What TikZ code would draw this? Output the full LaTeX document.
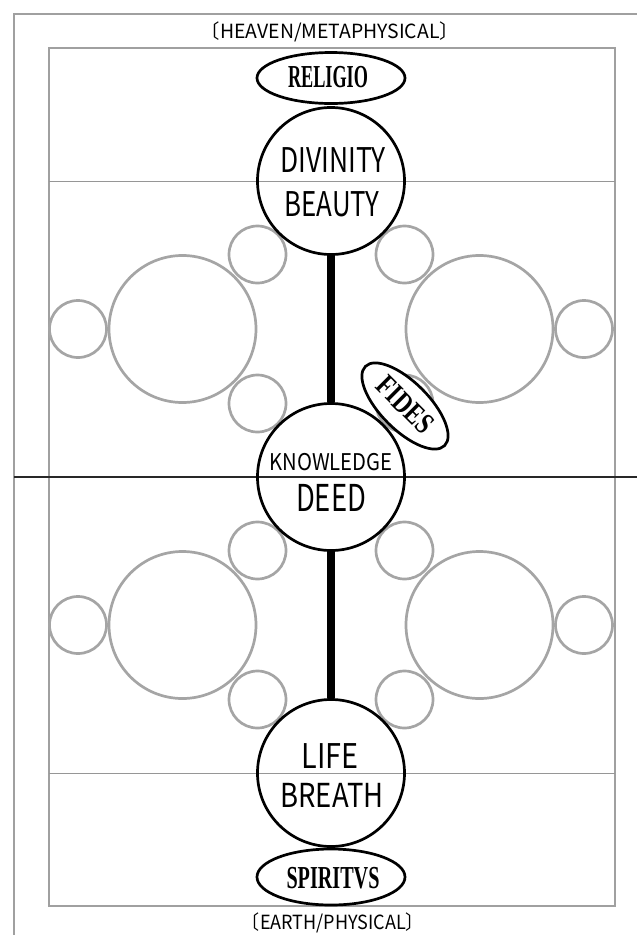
\documentclass[tikz,border=0pt]{standalone}
\usepackage{fontspec}
\usepackage{graphicx}
\usetikzlibrary{shapes.geometric}
\newfontfamily\circfont{Noto Sans CJK JP}
\newfontfamily\tagfont{Liberation Serif}
\definecolor{ringgray}{RGB}{165,165,165}
\definecolor{framegray}{RGB}{160,160,160}
\definecolor{rulegray}{RGB}{150,150,150}
\definecolor{darkrule}{RGB}{40,40,40}
\newcommand\wtext[3]{\resizebox{#1pt}{\height}{\fontsize{#2}{#2}\selectfont #3}}
\begin{document}
\begin{tikzpicture}[x=1pt,y=-1pt,
  mainc/.style={circle,draw=black,line width=2.7pt,minimum size=147pt,inner sep=0pt},
  bigring/.style={circle,draw=ringgray,line width=2.7pt,minimum size=147pt,inner sep=0pt},
  smallring/.style={circle,draw=ringgray,line width=2.7pt,minimum size=57pt,inner sep=0pt},
  tagshape/.style={ellipse,draw=black,line width=2.7pt,fill=white,inner sep=0pt},
  sanstext/.style={inner sep=0pt,anchor=center,font=\circfont},
  serifword/.style={inner sep=0pt,anchor=center,font=\tagfont\bfseries},
  labeltext/.style={inner sep=0pt,anchor=base,font=\circfont},
  frameline/.style={draw=framegray,line width=2.8pt},
  thinrule/.style={draw=rulegray,line width=0.9pt},
  midrule/.style={draw=darkrule,line width=1.6pt},
  stem/.style={draw=black,line width=7.5pt}
]
\useasboundingbox (0,0) rectangle (637,935);
% frames
\draw[frameline] (14,940) -- (14,14) -- (640,14);
\draw[frameline] (49,48) rectangle (615,906);
% rules
\draw[thinrule] (49,181) -- (615,181);
\draw[thinrule] (49,773) -- (615,773);
\draw[midrule] (14,477) -- (640,477);
% grey ring groups
\foreach \gy/\gn in {329/u,625/l}{
  \node[bigring] (bl\gn) at (182.5,\gy) {};
  \node[smallring] (sl\gn) at (78,\gy) {};
  \node[smallring] (sta\gn) at (257.5,\gy-74.5) {};
  \node[smallring] (stb\gn) at (257.5,\gy+74.5) {};
  \node[bigring] (br\gn) at (479.5,\gy) {};
  \node[smallring] (sr\gn) at (584,\gy) {};
  \node[smallring] (ssa\gn) at (404.5,\gy-74.5) {};
  \node[smallring] (ssb\gn) at (404.5,\gy+74.5) {};
}
% main circles
\node[mainc] (top) at (331,181) {};
\node[mainc] (mid) at (331,477) {};
\node[mainc] (bot) at (331,773) {};
\draw[stem] (top) -- (mid);
\draw[stem] (mid) -- (bot);
% tags
\node[tagshape,minimum width=148pt,minimum height=51pt] (religio) at (331,78) {};
\node[tagshape,minimum width=148pt,minimum height=56pt] (spiritvs) at (331,877) {};
\node[tagshape,minimum width=112pt,minimum height=48pt,rotate=-45] (fides) at (405,406) {};
% texts
\node[labeltext] (heaven) at (330,38) {\wtext{258}{19.5}{〔HEAVEN/METAPHYSICAL〕}};
\node[labeltext] (earth) at (333,929.5) {\wtext{182}{19.5}{〔EARTH/PHYSICAL〕}};
\node[sanstext] (divinity) at (333,160) {\wtext{105}{34}{DIVINITY}};
\node[sanstext] (beauty) at (332,204) {\wtext{95}{34}{BEAUTY}};
\node[sanstext] (knowledge) at (331,462) {\wtext{123}{23}{KNOWLEDGE}};
\node[sanstext] (deed) at (331,498) {\wtext{70}{37}{DEED}};
\node[sanstext] (life) at (330,756) {\wtext{57}{34}{LIFE}};
\node[sanstext] (breath) at (332,795) {\wtext{103}{33}{BREATH}};
\node[serifword] (religiot) at (328,77) {\wtext{80}{32}{RELIGIO}};
\node[serifword] (spiritvst) at (333,878) {\wtext{93}{32}{SPIRITVS}};
\node[serifword,rotate=-45] (fidest) at (405,405) {\wtext{68}{30}{FIDES}};
\end{tikzpicture}
\end{document}
